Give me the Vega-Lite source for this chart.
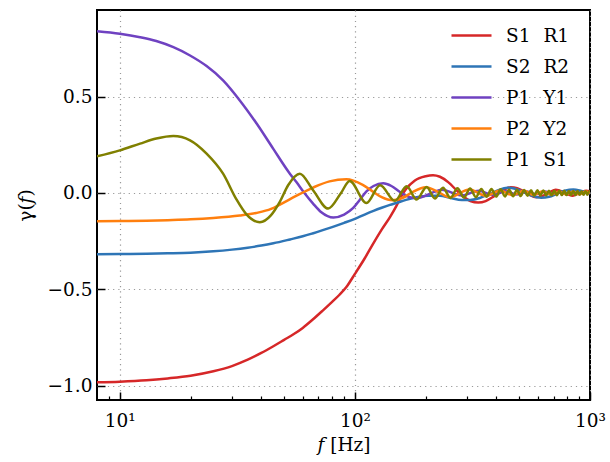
{
  "$schema": "https://vega.github.io/schema/vega-lite/v6.json",
  "autosize": {"type": "none"},
  "padding": {"left": 97, "top": 10, "right": 20, "bottom": 62},
  "width": 493,
  "height": 390,
  "config": {
    "view": {"stroke": "black", "strokeWidth": 2},
    "font": "DejaVu Serif",
    "axis": {"domain": false, "labelFont": "DejaVu Serif", "titleFont": "DejaVu Serif", "labelFontSize": 18.5, "titleFontSize": 18.5, "titleFontWeight": "normal", "labelColor": "black", "titleColor": "black", "tickColor": "black", "gridColor": "#999999", "gridDash": [1.2, 4], "gridWidth": 1.2},
    "legend": {"labelFont": "DejaVu Serif", "labelFontSize": 18.5, "labelColor": "black"}
  },
  "datasets": {
    "orf": [
      {"f": 8, "v": -0.982, "s": "S1 R1"}, {"f": 10, "v": -0.979, "s": "S1 R1"}, {"f": 13, "v": -0.972, "s": "S1 R1"}, {"f": 16, "v": -0.962, "s": "S1 R1"}, {"f": 20, "v": -0.948, "s": "S1 R1"}, {"f": 25, "v": -0.925, "s": "S1 R1"}, {"f": 30, "v": -0.898, "s": "S1 R1"}, {"f": 35, "v": -0.865, "s": "S1 R1"}, {"f": 40, "v": -0.83, "s": "S1 R1"}, {"f": 45, "v": -0.795, "s": "S1 R1"}, {"f": 50, "v": -0.762, "s": "S1 R1"}, {"f": 55, "v": -0.732, "s": "S1 R1"}, {"f": 60, "v": -0.7, "s": "S1 R1"}, {"f": 66, "v": -0.658, "s": "S1 R1"}, {"f": 73, "v": -0.61, "s": "S1 R1"}, {"f": 80, "v": -0.565, "s": "S1 R1"}, {"f": 86, "v": -0.528, "s": "S1 R1"}, {"f": 92, "v": -0.488, "s": "S1 R1"}, {"f": 100, "v": -0.42, "s": "S1 R1"}, {"f": 110, "v": -0.34, "s": "S1 R1"}, {"f": 120, "v": -0.26, "s": "S1 R1"}, {"f": 130, "v": -0.19, "s": "S1 R1"}, {"f": 141, "v": -0.125, "s": "S1 R1"}, {"f": 150, "v": -0.068, "s": "S1 R1"}, {"f": 158, "v": -0.015, "s": "S1 R1"}, {"f": 165, "v": 0.02, "s": "S1 R1"}, {"f": 180, "v": 0.065, "s": "S1 R1"}, {"f": 200, "v": 0.087, "s": "S1 R1"}, {"f": 215, "v": 0.092, "s": "S1 R1"}, {"f": 230, "v": 0.084, "s": "S1 R1"}, {"f": 250, "v": 0.055, "s": "S1 R1"}, {"f": 270, "v": 0.015, "s": "S1 R1"}, {"f": 290, "v": -0.02, "s": "S1 R1"}, {"f": 310, "v": -0.042, "s": "S1 R1"}, {"f": 335, "v": -0.05, "s": "S1 R1"}, {"f": 360, "v": -0.042, "s": "S1 R1"}, {"f": 385, "v": -0.022, "s": "S1 R1"}, {"f": 410, "v": 0.0, "s": "S1 R1"}, {"f": 435, "v": 0.02, "s": "S1 R1"}, {"f": 460, "v": 0.03, "s": "S1 R1"}, {"f": 490, "v": 0.025, "s": "S1 R1"}, {"f": 520, "v": 0.01, "s": "S1 R1"}, {"f": 550, "v": -0.008, "s": "S1 R1"}, {"f": 590, "v": -0.022, "s": "S1 R1"}, {"f": 630, "v": -0.015, "s": "S1 R1"}, {"f": 670, "v": 0.002, "s": "S1 R1"}, {"f": 715, "v": 0.016, "s": "S1 R1"}, {"f": 760, "v": 0.008, "s": "S1 R1"}, {"f": 800, "v": -0.006, "s": "S1 R1"}, {"f": 840, "v": -0.014, "s": "S1 R1"}, {"f": 880, "v": -0.006, "s": "S1 R1"}, {"f": 920, "v": 0.005, "s": "S1 R1"}, {"f": 965, "v": 0.012, "s": "S1 R1"}, {"f": 1000, "v": 0.008, "s": "S1 R1"},

      {"f": 8, "v": -0.318, "s": "S2 R2"}, {"f": 10, "v": -0.317, "s": "S2 R2"}, {"f": 13, "v": -0.315, "s": "S2 R2"}, {"f": 16, "v": -0.313, "s": "S2 R2"}, {"f": 20, "v": -0.31, "s": "S2 R2"}, {"f": 25, "v": -0.303, "s": "S2 R2"}, {"f": 30, "v": -0.294, "s": "S2 R2"}, {"f": 35, "v": -0.284, "s": "S2 R2"}, {"f": 40, "v": -0.273, "s": "S2 R2"}, {"f": 45, "v": -0.261, "s": "S2 R2"}, {"f": 53, "v": -0.241, "s": "S2 R2"}, {"f": 60, "v": -0.225, "s": "S2 R2"}, {"f": 66, "v": -0.21, "s": "S2 R2"}, {"f": 73, "v": -0.193, "s": "S2 R2"}, {"f": 80, "v": -0.177, "s": "S2 R2"}, {"f": 90, "v": -0.155, "s": "S2 R2"}, {"f": 100, "v": -0.134, "s": "S2 R2"}, {"f": 110, "v": -0.112, "s": "S2 R2"}, {"f": 120, "v": -0.093, "s": "S2 R2"}, {"f": 130, "v": -0.077, "s": "S2 R2"}, {"f": 141, "v": -0.062, "s": "S2 R2"}, {"f": 150, "v": -0.052, "s": "S2 R2"}, {"f": 165, "v": -0.036, "s": "S2 R2"}, {"f": 183, "v": -0.022, "s": "S2 R2"}, {"f": 205, "v": -0.014, "s": "S2 R2"}, {"f": 230, "v": -0.015, "s": "S2 R2"}, {"f": 255, "v": -0.026, "s": "S2 R2"}, {"f": 285, "v": -0.037, "s": "S2 R2"}, {"f": 310, "v": -0.036, "s": "S2 R2"}, {"f": 340, "v": -0.026, "s": "S2 R2"}, {"f": 370, "v": -0.008, "s": "S2 R2"}, {"f": 405, "v": 0.013, "s": "S2 R2"}, {"f": 445, "v": 0.027, "s": "S2 R2"}, {"f": 480, "v": 0.022, "s": "S2 R2"}, {"f": 520, "v": 0.006, "s": "S2 R2"}, {"f": 565, "v": -0.014, "s": "S2 R2"}, {"f": 620, "v": -0.025, "s": "S2 R2"}, {"f": 670, "v": -0.02, "s": "S2 R2"}, {"f": 720, "v": -0.005, "s": "S2 R2"}, {"f": 780, "v": 0.011, "s": "S2 R2"}, {"f": 850, "v": 0.018, "s": "S2 R2"}, {"f": 920, "v": 0.01, "s": "S2 R2"}, {"f": 1000, "v": -0.002, "s": "S2 R2"},

      {"f": 8, "v": 0.839, "s": "P1 Y1"}, {"f": 10, "v": 0.826, "s": "P1 Y1"}, {"f": 12.2, "v": 0.808, "s": "P1 Y1"}, {"f": 14.3, "v": 0.788, "s": "P1 Y1"}, {"f": 16.9, "v": 0.756, "s": "P1 Y1"}, {"f": 19.9, "v": 0.713, "s": "P1 Y1"}, {"f": 23.4, "v": 0.658, "s": "P1 Y1"}, {"f": 27.5, "v": 0.584, "s": "P1 Y1"}, {"f": 32.4, "v": 0.48, "s": "P1 Y1"}, {"f": 38.2, "v": 0.36, "s": "P1 Y1"}, {"f": 44.9, "v": 0.23, "s": "P1 Y1"}, {"f": 52.9, "v": 0.1, "s": "P1 Y1"}, {"f": 56.5, "v": 0.055, "s": "P1 Y1"}, {"f": 61, "v": 0.0, "s": "P1 Y1"}, {"f": 66.4, "v": -0.055, "s": "P1 Y1"}, {"f": 72, "v": -0.1, "s": "P1 Y1"}, {"f": 81, "v": -0.127, "s": "P1 Y1"}, {"f": 90, "v": -0.112, "s": "P1 Y1"}, {"f": 98.4, "v": -0.078, "s": "P1 Y1"}, {"f": 105, "v": -0.035, "s": "P1 Y1"}, {"f": 112, "v": 0.008, "s": "P1 Y1"}, {"f": 120, "v": 0.036, "s": "P1 Y1"}, {"f": 132, "v": 0.05, "s": "P1 Y1"}, {"f": 143, "v": 0.036, "s": "P1 Y1"}, {"f": 155, "v": 0.006, "s": "P1 Y1"}, {"f": 168, "v": -0.019, "s": "P1 Y1"}, {"f": 183, "v": -0.027, "s": "P1 Y1"}, {"f": 200, "v": -0.014, "s": "P1 Y1"}, {"f": 216, "v": 0.004, "s": "P1 Y1"}, {"f": 234, "v": 0.016, "s": "P1 Y1"}, {"f": 285, "v": -0.013, "s": "P1 Y1"}, {"f": 336, "v": 0.011, "s": "P1 Y1"}, {"f": 387, "v": -0.01, "s": "P1 Y1"}, {"f": 438, "v": 0.009, "s": "P1 Y1"}, {"f": 489, "v": -0.008, "s": "P1 Y1"}, {"f": 540, "v": 0.008, "s": "P1 Y1"}, {"f": 591, "v": -0.007, "s": "P1 Y1"}, {"f": 642, "v": 0.007, "s": "P1 Y1"}, {"f": 693, "v": -0.006, "s": "P1 Y1"}, {"f": 744, "v": 0.006, "s": "P1 Y1"}, {"f": 795, "v": -0.006, "s": "P1 Y1"}, {"f": 846, "v": 0.005, "s": "P1 Y1"}, {"f": 897, "v": -0.005, "s": "P1 Y1"}, {"f": 948, "v": 0.005, "s": "P1 Y1"}, {"f": 1000, "v": -0.004, "s": "P1 Y1"},

      {"f": 8, "v": -0.147, "s": "P2 Y2"}, {"f": 10, "v": -0.146, "s": "P2 Y2"}, {"f": 13, "v": -0.144, "s": "P2 Y2"}, {"f": 16, "v": -0.141, "s": "P2 Y2"}, {"f": 20, "v": -0.137, "s": "P2 Y2"}, {"f": 25, "v": -0.13, "s": "P2 Y2"}, {"f": 32.4, "v": -0.117, "s": "P2 Y2"}, {"f": 38, "v": -0.104, "s": "P2 Y2"}, {"f": 44, "v": -0.083, "s": "P2 Y2"}, {"f": 48, "v": -0.06, "s": "P2 Y2"}, {"f": 56.5, "v": -0.014, "s": "P2 Y2"}, {"f": 66.4, "v": 0.028, "s": "P2 Y2"}, {"f": 78, "v": 0.06, "s": "P2 Y2"}, {"f": 92, "v": 0.071, "s": "P2 Y2"}, {"f": 108, "v": 0.042, "s": "P2 Y2"}, {"f": 120, "v": 0.005, "s": "P2 Y2"}, {"f": 130, "v": -0.022, "s": "P2 Y2"}, {"f": 145, "v": -0.038, "s": "P2 Y2"}, {"f": 160, "v": -0.025, "s": "P2 Y2"}, {"f": 175, "v": 0.003, "s": "P2 Y2"}, {"f": 200, "v": 0.03, "s": "P2 Y2"}, {"f": 226, "v": 0.005, "s": "P2 Y2"}, {"f": 253, "v": -0.022, "s": "P2 Y2"}, {"f": 307, "v": 0.018, "s": "P2 Y2"}, {"f": 361, "v": -0.015, "s": "P2 Y2"}, {"f": 415, "v": 0.013, "s": "P2 Y2"}, {"f": 469, "v": -0.012, "s": "P2 Y2"}, {"f": 523, "v": 0.011, "s": "P2 Y2"}, {"f": 577, "v": -0.01, "s": "P2 Y2"}, {"f": 631, "v": 0.009, "s": "P2 Y2"}, {"f": 685, "v": -0.009, "s": "P2 Y2"}, {"f": 739, "v": 0.008, "s": "P2 Y2"}, {"f": 793, "v": -0.008, "s": "P2 Y2"}, {"f": 847, "v": 0.007, "s": "P2 Y2"}, {"f": 901, "v": -0.007, "s": "P2 Y2"}, {"f": 955, "v": 0.007, "s": "P2 Y2"}, {"f": 1000, "v": 0.0, "s": "P2 Y2"},

      {"f": 8, "v": 0.19, "s": "P1 S1"}, {"f": 10, "v": 0.221, "s": "P1 S1"}, {"f": 12.2, "v": 0.256, "s": "P1 S1"}, {"f": 14.3, "v": 0.282, "s": "P1 S1"}, {"f": 16.9, "v": 0.295, "s": "P1 S1"}, {"f": 19.9, "v": 0.273, "s": "P1 S1"}, {"f": 23.4, "v": 0.204, "s": "P1 S1"}, {"f": 27.5, "v": 0.1, "s": "P1 S1"}, {"f": 31.4, "v": -0.035, "s": "P1 S1"}, {"f": 34.5, "v": -0.11, "s": "P1 S1"}, {"f": 39.4, "v": -0.152, "s": "P1 S1"}, {"f": 44, "v": -0.115, "s": "P1 S1"}, {"f": 48, "v": -0.045, "s": "P1 S1"}, {"f": 52, "v": 0.04, "s": "P1 S1"}, {"f": 58.3, "v": 0.1, "s": "P1 S1"}, {"f": 66.4, "v": 0.014, "s": "P1 S1"}, {"f": 77, "v": -0.081, "s": "P1 S1"}, {"f": 87, "v": -0.003, "s": "P1 S1"}, {"f": 95, "v": 0.062, "s": "P1 S1"}, {"f": 112, "v": -0.052, "s": "P1 S1"}, {"f": 128, "v": 0.04, "s": "P1 S1"}, {"f": 148, "v": -0.041, "s": "P1 S1"}, {"f": 166, "v": 0.035, "s": "P1 S1"}, {"f": 183, "v": -0.034, "s": "P1 S1"}, {"f": 202, "v": 0.031, "s": "P1 S1"}, {"f": 219, "v": -0.029, "s": "P1 S1"}, {"f": 237, "v": 0.027, "s": "P1 S1"}, {"f": 255, "v": -0.026, "s": "P1 S1"}, {"f": 273, "v": 0.025, "s": "P1 S1"}, {"f": 291, "v": -0.024, "s": "P1 S1"}, {"f": 309, "v": 0.023, "s": "P1 S1"}, {"f": 327, "v": -0.022, "s": "P1 S1"}, {"f": 345, "v": 0.021, "s": "P1 S1"}, {"f": 363, "v": -0.02, "s": "P1 S1"}, {"f": 381, "v": 0.02, "s": "P1 S1"}, {"f": 399, "v": -0.019, "s": "P1 S1"}, {"f": 417, "v": 0.019, "s": "P1 S1"}, {"f": 435, "v": -0.018, "s": "P1 S1"}, {"f": 453, "v": 0.017, "s": "P1 S1"}, {"f": 471, "v": -0.017, "s": "P1 S1"}, {"f": 489, "v": 0.016, "s": "P1 S1"}, {"f": 507, "v": -0.016, "s": "P1 S1"}, {"f": 525, "v": 0.015, "s": "P1 S1"}, {"f": 543, "v": -0.015, "s": "P1 S1"}, {"f": 561, "v": 0.014, "s": "P1 S1"}, {"f": 579, "v": -0.014, "s": "P1 S1"}, {"f": 597, "v": 0.014, "s": "P1 S1"}, {"f": 615, "v": -0.013, "s": "P1 S1"}, {"f": 633, "v": 0.013, "s": "P1 S1"}, {"f": 651, "v": -0.013, "s": "P1 S1"}, {"f": 669, "v": 0.012, "s": "P1 S1"}, {"f": 687, "v": -0.012, "s": "P1 S1"}, {"f": 705, "v": 0.012, "s": "P1 S1"}, {"f": 723, "v": -0.012, "s": "P1 S1"}, {"f": 741, "v": 0.011, "s": "P1 S1"}, {"f": 759, "v": -0.011, "s": "P1 S1"}, {"f": 777, "v": 0.011, "s": "P1 S1"}, {"f": 795, "v": -0.011, "s": "P1 S1"}, {"f": 813, "v": 0.01, "s": "P1 S1"}, {"f": 831, "v": -0.01, "s": "P1 S1"}, {"f": 849, "v": 0.01, "s": "P1 S1"}, {"f": 867, "v": -0.01, "s": "P1 S1"}, {"f": 885, "v": 0.01, "s": "P1 S1"}, {"f": 903, "v": -0.009, "s": "P1 S1"}, {"f": 921, "v": 0.009, "s": "P1 S1"}, {"f": 939, "v": -0.009, "s": "P1 S1"}, {"f": 957, "v": 0.009, "s": "P1 S1"}, {"f": 975, "v": -0.009, "s": "P1 S1"}, {"f": 993, "v": 0.009, "s": "P1 S1"}, {"f": 1000, "v": 0.006, "s": "P1 S1"}
    ]
  },
  "data": {"name": "orf"},
  "resolve": {"axis": {"x": "independent"}},
  "layer": [
    {
      "mark": {"type": "line", "strokeWidth": 2.5, "interpolate": "monotone", "clip": true},
      "encoding": {
        "x": {"field": "f", "type": "quantitative", "scale": {"type": "log", "domain": [8, 1000], "nice": false},
          "axis": {"orient": "bottom", "values": [10, 100, 1000], "labelExpr": "datum.value == 10 ? '10¹' : datum.value == 100 ? '10²' : '10³'", "labelFlush": false, "labelOverlap": false, "tickSize": -8, "tickWidth": 1.5, "labelPadding": 19, "grid": true, "title": "𝑓 [Hz]", "titlePadding": 6}},
        "y": {"field": "v", "type": "quantitative", "scale": {"domain": [-1.074, 0.949], "nice": false, "zero": false},
          "axis": {"values": [-1, -0.5, 0, 0.5], "format": ".1f", "labelFlush": false, "tickSize": -8, "tickWidth": 1.5, "labelPadding": 13, "grid": true, "title": "γ(𝑓)", "titlePadding": 12}},
        "color": {"field": "s", "type": "nominal", "sort": ["S1 R1", "S2 R2", "P1 Y1", "P2 Y2", "P1 S1"],
          "scale": {"domain": ["S1 R1", "S2 R2", "P1 Y1", "P2 Y2", "P1 S1"], "range": ["#d62728", "#2e75b6", "#6f42c1", "#ff7f0e", "#808000"]},
          "legend": {"title": null, "orient": "none", "legendX": 353, "legendY": 4, "padding": 0, "symbolType": "stroke", "symbolSize": 1600, "symbolStrokeWidth": 2.5, "labelOffset": 13, "rowPadding": -10.3, "labelFontSize": 18.5, "labelExpr": "replace(datum.label, ' ', '\u2002\u2009')"}}
      }
    },
    {
      "mark": {"type": "point", "opacity": 0},
      "encoding": {
        "x": {"field": "f", "type": "quantitative",
          "axis": {"orient": "bottom", "values": [9, 20, 30, 40, 50, 60, 70, 80, 90, 200, 300, 400, 500, 600, 700, 800, 900], "labels": false, "tickSize": -4, "tickWidth": 1.2, "grid": false, "title": null}},
        "y": {"field": "v", "type": "quantitative"}
      }
    }
  ]
}
